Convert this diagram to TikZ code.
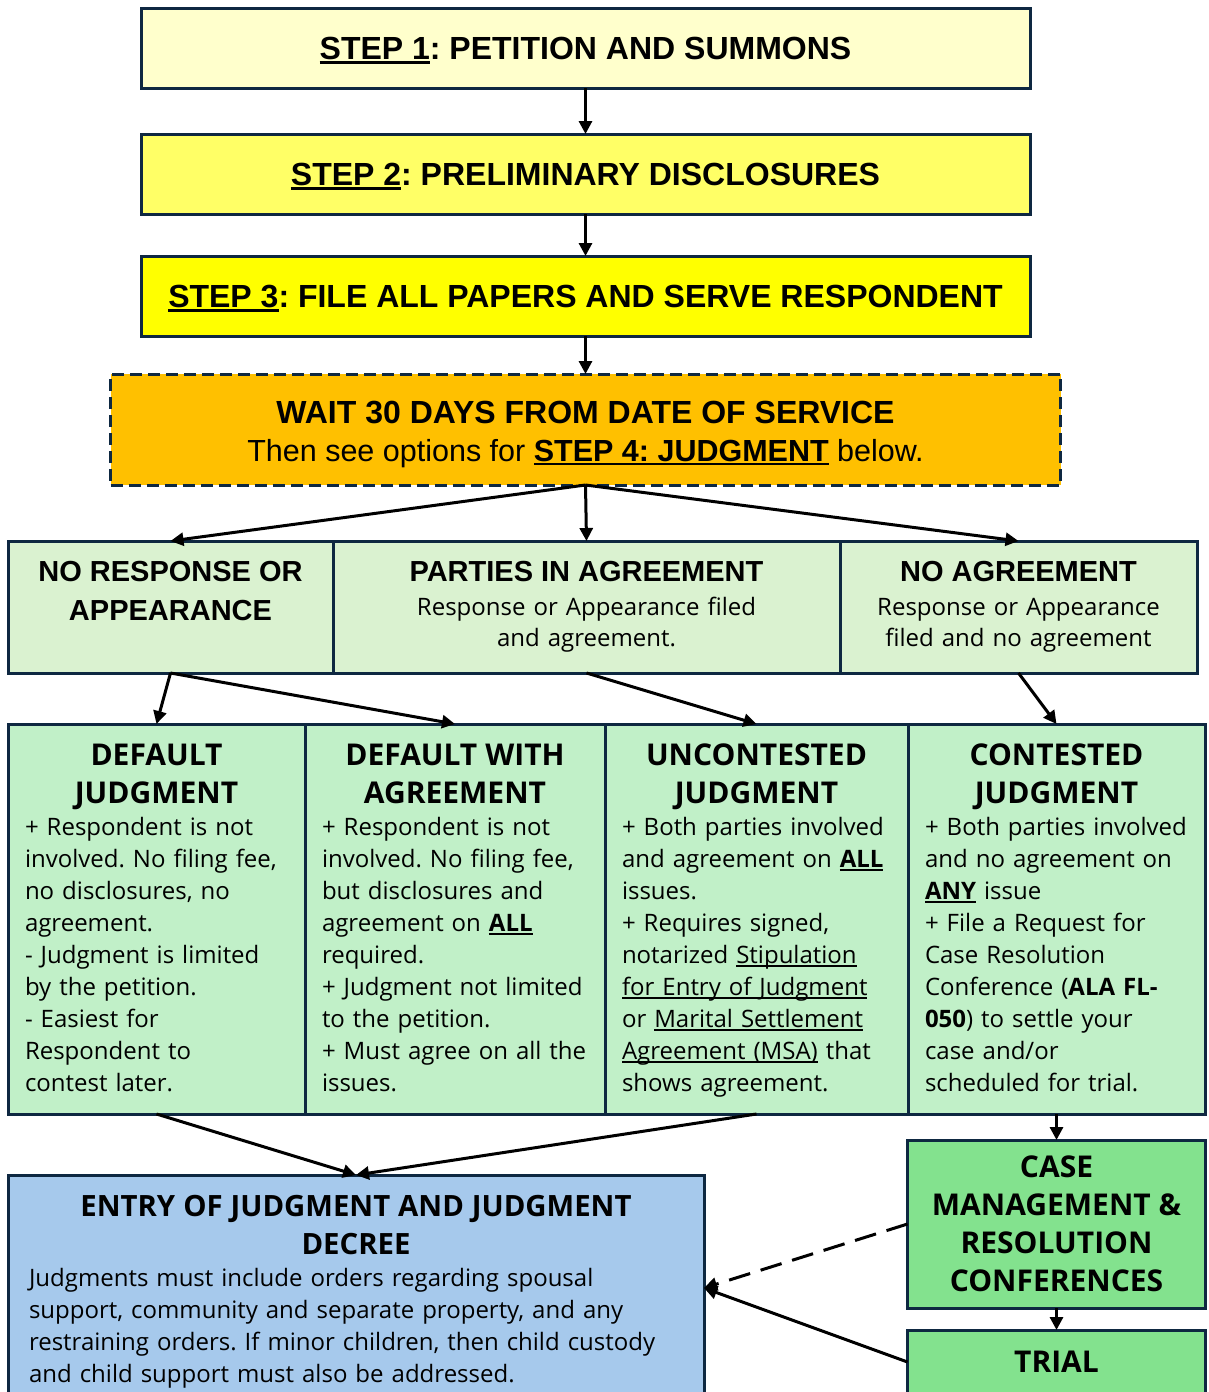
\documentclass[tikz,border=0pt]{standalone}
\usepackage{fontspec}
\setmainfont{Open Sans}
\newfontfamily\arialfont{Liberation Sans}
\usetikzlibrary{arrows.meta}
\usetikzlibrary{positioning}
\definecolor{navy}{HTML}{0E2841}
\definecolor{stepa}{HTML}{FFFFCC}
\definecolor{stepb}{HTML}{FFFF66}
\definecolor{stepc}{HTML}{FFFF00}
\definecolor{waitfill}{HTML}{FFC000}
\definecolor{palegreen}{HTML}{DAF2D0}
\definecolor{midgreen}{HTML}{C1F0C8}
\definecolor{deepgreen}{HTML}{83E28E}
\definecolor{paleblue}{HTML}{A6C9EC}
\frenchspacing
\hyphenpenalty=10000
\newcommand{\ulx}[2][1.6pt]{\leavevmode\setbox0\hbox{#2}\rlap{\copy0}\rule[-4pt]{\wd0}{#1}}
\tikzset{
  > = {Triangle[length=13pt,width=13pt]},
  box/.style = {rectangle,
                draw = navy,
                line width = 3pt,
                outer sep = 0pt,
                inner sep = 0pt},
  stepbox/.style = {box,
                    minimum width = 889pt,
                    minimum height = 80pt,
                    text height = 23pt,
                    text depth = 0pt,
                    font = \arialfont\bfseries\fontsize{32}{38}\selectfont},
  waitbox/.style = {box,
                    fill = waitfill,
                    dash pattern = on 12pt off 6pt,
                    minimum width = 950pt,
                    minimum height = 111pt,
                    align = center,
                    font = \arialfont\fontsize{30.5}{38}\selectfont},
  choicebox/.style = {box,
                      fill = palegreen,
                      inner xsep = 10pt,
                      inner ysep = 10pt,
                      text height = 30pt,
                      text depth = 82pt,
                      align = center,
                      font = \fontsize{24}{31}\selectfont},
  routebox/.style = {box,
                     fill = midgreen,
                     inner xsep = 17pt,
                     inner ysep = 10pt,
                     text height = 31pt,
                     text depth = 339pt,
                     font = \fontsize{24}{32}\selectfont},
  hearbox/.style = {box,
                    fill = deepgreen,
                    minimum width = 298pt,
                    align = center,
                    font = \bfseries\fontsize{30}{38}\selectfont},
  link/.style = {->, line width = 3pt},
  dashlink/.style = {link, dash pattern = on 22pt off 11pt}
}
\newcommand{\headtxt}[1]{{\centering\bfseries\fontsize{30}{38}\selectfont #1\par}}
\newcommand{\choicehead}[1]{{\centering\arialfont\bfseries\fontsize{29}{39}\selectfont #1\par}\vspace{3pt}}
\begin{document}
\begin{tikzpicture}[x=1pt, y=-1pt]
\useasboundingbox (0,0) rectangle (1208,1392);

% the three steps
\node[stepbox, fill = stepa, anchor = north west](step1) at (141,8)
  {\ulx[2.6pt]{STEP 1}: PETITION AND SUMMONS};
\node[stepbox, fill = stepb](step2)[below = 46pt of step1]
  {\ulx[2.6pt]{STEP 2}: PRELIMINARY DISCLOSURES};
\node[stepbox, fill = stepc](step3)[below = 42pt of step2]
  {\ulx[2.6pt]{STEP 3}: FILE ALL PAPERS AND SERVE RESPONDENT};
\node[waitbox](wait)[below = 38pt of step3]
  {\rule{0pt}{32pt}{\fontsize{32}{38}\selectfont\textbf{WAIT 30 DAYS FROM DATE OF SERVICE}}\\
   Then see options for \ulx[2.6pt]{\textbf{STEP 4: JUDGMENT}} below.};

% what the respondent does
\node[choicebox, minimum width = 325pt, text width = 305pt, anchor = north west](norsp) at (8,541)
  {\choicehead{NO RESPONSE OR\\APPEARANCE}};
\node[choicebox, minimum width = 507pt, text width = 487pt](parties)[right = 0pt of norsp]
  {\choicehead{PARTIES IN AGREEMENT}
   Response or Appearance filed\\and agreement.};
\node[choicebox, minimum width = 357pt, text width = 337pt](noagr)[right = 0pt of parties]
  {\choicehead{NO AGREEMENT}
   Response or Appearance\\filed and no agreement};

% kinds of judgment
\node[routebox, minimum width = 297pt, text width = 263pt, anchor = north west](dflt) at (8,724)
  {\headtxt{DEFAULT\\JUDGMENT}
   + Respondent is not\\
   involved. No filing fee,\\
   no disclosures, no\\
   agreement.\\
   - Judgment is limited\\
   by the petition.\\
   - Easiest for\\
   Respondent to\\
   contest later.};
\node[routebox, minimum width = 300pt, text width = 266pt](dfltagr)[right = 0pt of dflt]
  {\headtxt{DEFAULT WITH\\AGREEMENT}
   + Respondent is not\\
   involved. No filing fee,\\
   but disclosures and\\
   agreement on \ulx[2pt]{\textbf{ALL}}\\
   required.\\
   + Judgment not limited\\
   to the petition.\\
   + Must agree on all the\\
   issues.};
\node[routebox, minimum width = 303pt, text width = 269pt](uncont)[right = 0pt of dfltagr]
  {\headtxt{UNCONTESTED\\JUDGMENT}
   + Both parties involved\\
   and agreement on \ulx[2pt]{\textbf{ALL}}\\
   issues.\\
   + Requires signed,\\
   notarized \ulx{Stipulation}\\
   \ulx{for Entry of Judgment}\\
   or \ulx{Marital Settlement}\\
   \ulx{Agreement (MSA)} that\\
   shows agreement.};
\node[routebox, minimum width = 297pt, text width = 263pt](contest)[right = 0pt of uncont]
  {\headtxt{CONTESTED\\JUDGMENT}
   + Both parties involved\\
   and no agreement on\\
   \ulx[2pt]{\textbf{ANY}} issue\\
   + File a Request for\\
   Case Resolution\\
   Conference (\textbf{ALA FL-}\\
   \textbf{050}) to settle your\\
   case and/or\\
   scheduled for trial.};

% end of the case
\node[box, fill = paleblue, minimum width = 696pt, text width = 654pt,
      inner xsep = 21pt, inner ysep = 10pt, text height = 31pt, text depth = 175pt,
      font = \fontsize{24}{32}\selectfont, anchor = north west](entry) at (8,1175)
  {{\centering\bfseries\fontsize{29.3}{38}\selectfont ENTRY OF JUDGMENT AND JUDGMENT\\DECREE\par}
   Judgments must include orders regarding spousal\\
   support, community and separate property, and any\\
   restraining orders. If minor children, then child custody\\
   and child support must also be addressed.};
\node[hearbox, minimum height = 168pt](cm)[below = 26pt of contest]
  {CASE\\MANAGEMENT \&\\RESOLUTION\\CONFERENCES};
\node[hearbox, minimum height = 64pt](trial)[below = 22pt of cm]{TRIAL};

% arrows
\draw[link] (step1) -- (step2);
\draw[link] (step2) -- (step3);
\draw[link] (step3) -- (wait);
\draw[link] (wait.south) -- (norsp.north);
\draw[link] (wait.south) -- (parties.north);
\draw[link] (wait.south) -- (noagr.north);
\draw[link] (norsp.south) -- (dflt.north);
\draw[link] (norsp.south) -- (dfltagr.north);
\draw[link] (parties.south) -- (uncont.north);
\draw[link] (noagr.south) -- (contest.north);
\draw[link] (dflt.south) -- (entry.north);
\draw[link] (uncont.south) -- (entry.north);
\draw[link] (contest) -- (cm);
\draw[link] (cm) -- (trial);
\draw[dashlink] (cm.west) -- (entry.east);
\draw[link] (trial.west) -- (entry.east);

\end{tikzpicture}
\end{document}
